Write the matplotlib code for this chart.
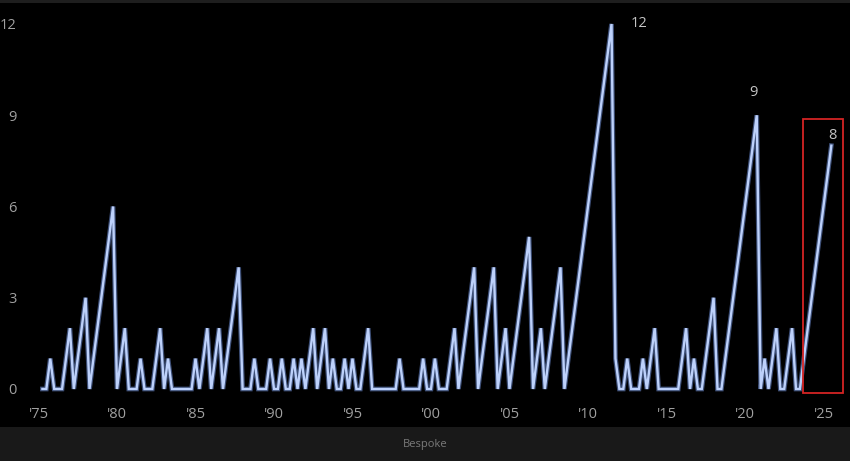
import matplotlib
matplotlib.use("Agg")
import matplotlib.pyplot as plt
from matplotlib.patches import Rectangle
import numpy as np

plt.rcParams['font.family'] = ['Open Sans', 'DejaVu Sans']

# quarterly readings, first one is 1975 Q2 (1975.25)
start_year = 1975.25
step = 0.25
counts = [
    0, 0, 1,          # 1975
    0, 0, 0, 1,       # 1976
    2, 0, 1, 2,       # 1977
    3, 0, 1, 2,       # 1978
    3, 4, 5, 6,       # 1979
    0, 1, 2, 0,       # 1980
    0, 0, 1, 0,       # 1981
    0, 0, 1, 2,       # 1982
    0, 1, 0, 0,       # 1983
    0, 0, 0, 0,       # 1984
    1, 0, 1, 2,       # 1985
    0, 1, 2, 0,       # 1986
    1, 2, 3, 4,       # 1987
    0, 0, 0, 1,       # 1988
    0, 0, 0, 1,       # 1989
    0, 0, 1, 0,       # 1990
    0, 1, 0, 1,       # 1991
    0, 1, 2, 0,       # 1992
    1, 2, 0, 1,       # 1993
    0, 0, 1, 0,       # 1994
    1, 0, 0, 1,       # 1995
    2, 0, 0, 0,       # 1996
    0, 0, 0, 0,       # 1997
    1, 0, 0, 0,       # 1998
    0, 0, 1, 0,       # 1999
    0, 1, 0, 0,       # 2000
    0, 1, 2, 0,       # 2001
    1, 2, 3, 4,       # 2002
    0, 1, 2, 3,       # 2003
    4, 0, 1, 2,       # 2004
    0, 1, 2, 3,       # 2005
    4, 5, 0, 1,       # 2006
    2, 0, 1, 2,       # 2007
    3, 4, 0, 1,       # 2008
    2, 3, 4, 5,       # 2009
    6, 7, 8, 9,       # 2010
    10, 11, 12, 1,    # 2011
    0, 0, 1, 0,       # 2012
    0, 0, 1, 0,       # 2013
    1, 2, 0, 0,       # 2014
    0, 0, 0, 0,       # 2015
    1, 2, 0, 1,       # 2016
    0, 0, 1, 2,       # 2017
    3, 0, 0, 1,       # 2018
    2, 3, 4, 5,       # 2019
    6, 7, 8, 9,       # 2020
    0, 1, 0, 1,       # 2021
    2, 0, 0, 1,       # 2022
    2, 0, 0, 1,       # 2023
    2, 3, 4, 5,       # 2024
    6, 7, 8,          # 2025
]

# labelled peaks: (year, value, text)
peak_labels = [(2011.5, 12, "12"), (2020.75, 9, "9"), (2025.5, 8, "8")]

x_ticks = list(range(1975, 2026, 5))
x_labels = ["'" + str(y)[2:] for y in x_ticks]
y_ticks = [0, 3, 6, 9, 12]

t = start_year + step * np.arange(len(counts))

W, H = 850, 461
fig = plt.figure(figsize=(W / 100, H / 100), dpi=100, facecolor="black")

# axes box in pixels: left 25, right 850, top 3, bottom 400
ax = fig.add_axes([25 / W, (H - 400) / H, (W - 25) / W, (400 - 3) / H])
ax.set_facecolor("black")

# glow + core line
ax.plot(t, counts, color="#6f8fd8", lw=3.4, alpha=0.55, solid_joinstyle="miter")
ax.plot(t, counts, color="#bdd1fb", lw=1.7, solid_joinstyle="miter")

ax.set_xlim(1974.14, 2026.69)
ax.set_ylim(-0.362, 12.69)

ax.set_xticks(x_ticks)
ax.set_xticklabels(x_labels)
ax.set_yticks(y_ticks)
ax.tick_params(axis="both", length=0, colors="#a0a0a0", labelsize=10.5)
ax.tick_params(axis="x", pad=5)
ax.tick_params(axis="y", pad=6)
for s in ax.spines.values():
    s.set_visible(False)

# highlight box around the current run
ax.add_patch(Rectangle((2023.71, -0.14), 2026.26 - 2023.71, 8.88 + 0.14,
                       fill=False, edgecolor="#d42424", lw=1.3, zorder=5))

# peak annotations
offsets = {"12": (1.73, 0.0), "9": (-0.18, 0.76), "8": (0.04, 0.33)}
for yr, val, txt in peak_labels:
    dx, dy = offsets[txt]
    ax.text(yr + dx, val + dy, txt, color="#c4c4c4", fontsize=10.5,
            ha="center", va="center")

# top and bottom gray strips
fig.patches.append(Rectangle((0, (H - 3) / H), 1, 3 / H, transform=fig.transFigure,
                             facecolor="#1e1e1e", edgecolor="none"))
fig.patches.append(Rectangle((0, 0), 1, (H - 427) / H, transform=fig.transFigure,
                             facecolor="#191919", edgecolor="none"))
fig.text(425 / W, (H - 444) / H, "Bespoke", color="#7a7a7a", fontsize=8,
         ha="center", va="center")

fig.savefig("out.png", dpi=100, facecolor=fig.get_facecolor())
